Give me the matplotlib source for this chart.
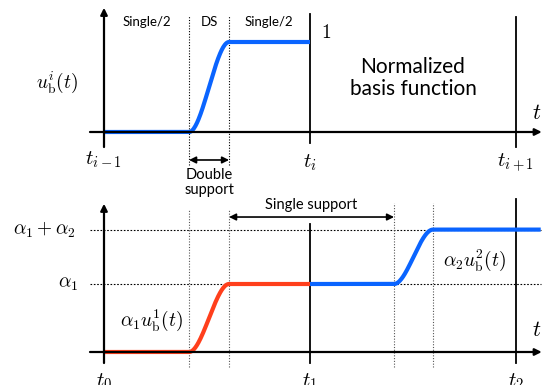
import numpy as np
import matplotlib.pyplot as plt

plt.rcParams['mathtext.fontset'] = 'cm'
plt.rcParams['font.family'] = ['Lato', 'DejaVu Sans']

# knot times (t_{i-1}=0, t_i=1, t_{i+1}=2)
knots = [0.0, 1.0, 2.0]
ds_start, ds_end = 0.413, 0.607      # double support of step 1
ds2_start, ds2_end = 1.408, 1.597    # double support of step 2
alpha1 = 1.0
alpha2 = 0.8

top_labels = [r'$t_{i-1}$', r'$t_i$', r'$t_{i+1}$']
bot_labels = [r'$t_0$', r'$t_1$', r'$t_2$']

BLUE = '#0a64ff'
RED = '#ff3f1c'


def basis(t, a, b):
    # normalized basis function: 0 before a, smooth rise, 1 after b
    s = np.clip((t - a) / (b - a), 0, 1)
    return s * s * (3 - 2 * s)


def arrow(ax, x0, y0, x1, y1, style='-|>', lw=1.6):
    ax.annotate('', xy=(x1, y1), xytext=(x0, y0),
                arrowprops=dict(arrowstyle=style, lw=lw, color='black',
                                shrinkA=0, shrinkB=0,
                                mutation_scale=10))


fig = plt.figure(figsize=(5.43, 3.85), dpi=100)
xlim = (-104 / 206, 439 / 206)

# ---- top panel: normalized basis function ----
ax1 = fig.add_axes([0, 0, 1, 1])
ax1.set_xlim(*xlim)
ax1.set_ylim(-253 / 90, 132 / 90)
ax1.axis('off')

t = np.linspace(knots[0], knots[1], 400)
ax1.plot(t, basis(t, ds_start, ds_end), color=BLUE, lw=3, solid_capstyle='butt', zorder=3)

arrow(ax1, -0.068, 0, 2.125, 0)
arrow(ax1, 0, -0.167, 0, 1.38)
ax1.plot([knots[1]] * 2, [-0.122, 1.311], color='black', lw=1.3)
ax1.plot([knots[2]] * 2, [-0.167, 1.278], color='black', lw=1.3)
for x in (ds_start, ds_end):
    ax1.plot([x, x], [-0.37, 1.3], color='black', lw=0.8, ls=(0, (1, 1.5)))
arrow(ax1, ds_start, -0.311, ds_end, -0.311, style='<|-|>', lw=1.2)

ax1.text(0.21, 1.22, 'Single/2', ha='center', va='center', fontsize=9.5)
ax1.text((ds_start + ds_end) / 2, 1.22, 'DS', ha='center', va='center', fontsize=9.5)
ax1.text(0.8, 1.22, 'Single/2', ha='center', va='center', fontsize=9.5)
ax1.text(1.08, 1.11, r'$1$', ha='center', va='center', fontsize=14)
ax1.text(1.5, 0.6, 'Normalized\nbasis function', ha='center', va='center',
         fontsize=15, linespacing=1.15)
ax1.text(2.1, 0.21, r'$t$', ha='center', va='center', fontsize=16)
ax1.text(-0.228, 0.555, r'$u_{\mathrm{b}}^{i}(t)$', ha='center', va='center', fontsize=14)
ax1.text((ds_start + ds_end) / 2, -0.48, 'Double', ha='center', va='center', fontsize=10.5)
ax1.text((ds_start + ds_end) / 2, -0.645, 'support', ha='center', va='center', fontsize=10.5)
for k, lab, dy in zip(knots, top_labels, [-0.31, -0.345, -0.335]):
    ax1.text(k, dy, lab, ha='center', va='center', fontsize=15)

# ---- bottom panel: weighted sum ----
ax2 = fig.add_axes([0, 0, 1, 1])
ax2.patch.set_alpha(0)
ax2.set_xlim(*xlim)
ax2.set_ylim(-33 / 68, 352 / 68)
ax2.axis('off')

t1 = np.linspace(knots[0], knots[1], 400)
t2 = np.linspace(knots[1], 2.12, 400)
ax2.plot(t1, alpha1 * basis(t1, ds_start, ds_end), color=RED, lw=3,
         solid_capstyle='butt', zorder=3)
ax2.plot(t2, alpha1 + alpha2 * basis(t2, ds2_start, ds2_end), color=BLUE, lw=3,
         solid_capstyle='butt', zorder=3)

arrow(ax2, -0.068, 0, 2.125, 0)
arrow(ax2, 0, -0.162, 0, 2.18)
ax2.plot([knots[1]] * 2, [-0.16, 1.88], color='black', lw=1.3)
ax2.plot([knots[2]] * 2, [-0.16, 2.25], color='black', lw=1.3)
for lev in (alpha1, alpha1 + alpha2):
    ax2.plot([-0.068, 2.12], [lev, lev], color='black', lw=0.8, ls=(0, (1.5, 1.5)))
for x, top in ((ds_start, 2.09), (ds_end, 2.09), (ds2_start, 2.19), (ds2_end, 2.19)):
    ax2.plot([x, x], [-0.22, top], color='#555555', lw=0.8, ls=(0, (1, 1.5)))
arrow(ax2, ds_end, 1.985, ds2_start, 1.985, style='<|-|>', lw=1.2)

ax2.text((ds_end + ds2_start) / 2, 2.16, 'Single support', ha='center', va='center', fontsize=10.5)
ax2.text(-0.29, alpha1 + alpha2, r'$\alpha_1 + \alpha_2$', ha='center', va='center', fontsize=14)
ax2.text(-0.175, alpha1, r'$\alpha_1$', ha='center', va='center', fontsize=14)
ax2.text(0.233, 0.47, r'$\alpha_1 u_{\mathrm{b}}^{1}(t)$', ha='center', va='center', fontsize=14)
ax2.text(1.8, 1.35, r'$\alpha_2 u_{\mathrm{b}}^{2}(t)$', ha='center', va='center', fontsize=14)
ax2.text(2.1, 0.33, r'$t$', ha='center', va='center', fontsize=16)
for k, lab in zip(knots, bot_labels):
    ax2.text(k, -0.43, lab, ha='center', va='center', fontsize=15)

fig.savefig('out.png', dpi=100)
